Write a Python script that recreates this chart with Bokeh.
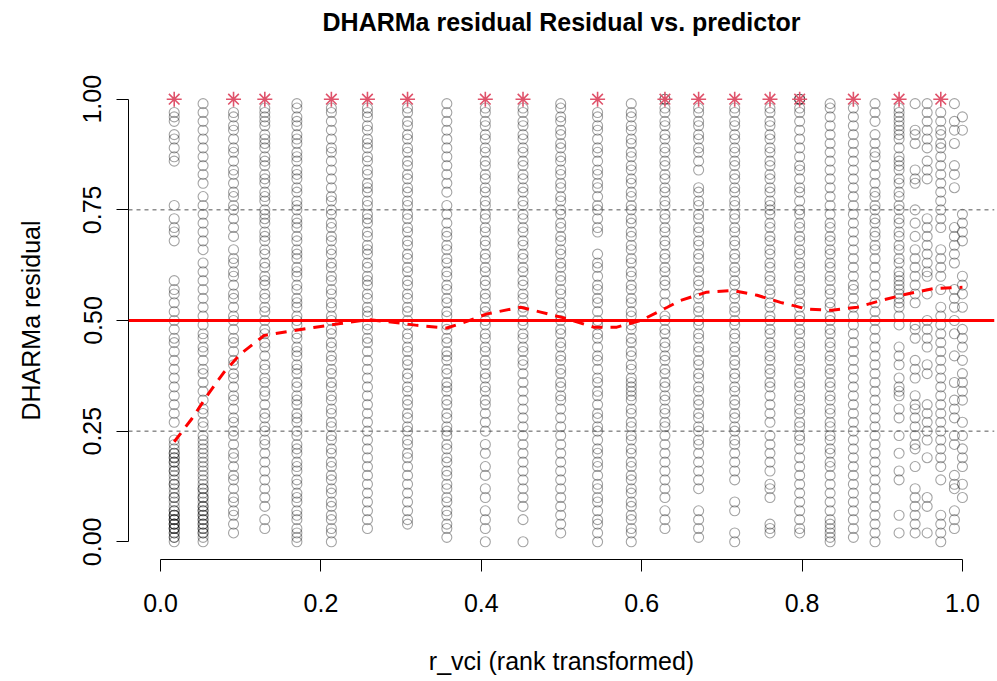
import math
from bokeh.plotting import figure
from bokeh.models import Range1d, FixedTicker, Span, Title
from bokeh.embed import file_html
from bokeh.resources import INLINE

# ---- data ----
title_text = "DHARMa residual Residual vs. predictor"
x_label = "r_vci (rank transformed)"
y_label = "DHARMa residual"

x_ticks = [0.0, 0.2, 0.4, 0.6, 0.8, 1.0]
x_tick_labels = ["0.0", "0.2", "0.4", "0.6", "0.8", "1.0"]
y_ticks = [0.0, 0.25, 0.5, 0.75, 1.0]
y_tick_labels = ["0.00", "0.25", "0.50", "0.75", "1.00"]

# rank-transformed predictor levels (one column of residuals per level)
r_vci_levels = [0.017, 0.053, 0.091, 0.130, 0.170, 0.213, 0.258, 0.308, 0.357, 0.405,
                0.452, 0.499, 0.545, 0.587, 0.629, 0.671, 0.716, 0.760, 0.797, 0.835,
                0.864, 0.891, 0.921, 0.941, 0.956, 0.973, 0.990, 1.000]

res_c01 = [0.97, 0.96, 0.95, 0.92, 0.91, 0.89, 0.87, 0.86, 0.76, 0.73, 0.71, 0.70, 0.68, 0.59, 0.57,
           0.56, 0.54, 0.52, 0.50, 0.48, 0.46, 0.45, 0.43, 0.41, 0.39, 0.37, 0.35, 0.33, 0.31, 0.29,
           0.27, 0.23, 0.22, 0.21, 0.20, 0.19, 0.19, 0.18, 0.17, 0.16, 0.16, 0.15, 0.14, 0.13, 0.13,
           0.12, 0.11, 0.10, 0.10, 0.09, 0.08, 0.07, 0.07, 0.06, 0.06, 0.05, 0.05, 0.04, 0.04, 0.04,
           0.03, 0.03, 0.02, 0.02, 0.01, 0.01, 0.00, 0.05, 0.06, 0.03, 0.18, 0.20]
res_c02 = [0.99, 0.97, 0.95, 0.93, 0.91, 0.89, 0.87, 0.85, 0.83, 0.81, 0.78, 0.76, 0.74, 0.72, 0.70,
           0.68, 0.66, 0.63, 0.61, 0.59, 0.57, 0.55, 0.53, 0.51, 0.49, 0.47, 0.46, 0.44, 0.43, 0.41,
           0.39, 0.38, 0.36, 0.34, 0.32, 0.30, 0.29, 0.27, 0.26, 0.24, 0.23, 0.22, 0.21, 0.20, 0.19,
           0.18, 0.17, 0.16, 0.15, 0.14, 0.13, 0.12, 0.12, 0.11, 0.10, 0.09, 0.08, 0.08, 0.07, 0.06,
           0.06, 0.05, 0.05, 0.04, 0.04, 0.03, 0.03, 0.02, 0.02, 0.01, 0.00, 0.07, 0.10]
res_c03 = [0.97, 0.96, 0.94, 0.93, 0.91, 0.89, 0.88, 0.86, 0.84, 0.83, 0.81, 0.79, 0.78, 0.76, 0.75,
           0.73, 0.71, 0.69, 0.66, 0.64, 0.63, 0.61, 0.60, 0.58, 0.56, 0.55, 0.53, 0.51, 0.50, 0.48,
           0.46, 0.45, 0.43, 0.41, 0.40, 0.38, 0.37, 0.35, 0.33, 0.32, 0.30, 0.28, 0.27, 0.25, 0.24,
           0.22, 0.20, 0.19, 0.17, 0.15, 0.14, 0.12, 0.10, 0.09, 0.07, 0.06, 0.04, 0.02]
res_c04 = [0.98, 0.97, 0.96, 0.95, 0.94, 0.92, 0.91, 0.90, 0.89, 0.87, 0.86, 0.85, 0.83, 0.82, 0.81,
           0.79, 0.78, 0.77, 0.75, 0.74, 0.73, 0.72, 0.70, 0.69, 0.68, 0.66, 0.65, 0.63, 0.62, 0.60,
           0.59, 0.58, 0.56, 0.55, 0.53, 0.52, 0.50, 0.48, 0.47, 0.45, 0.44, 0.42, 0.40, 0.39, 0.37,
           0.36, 0.34, 0.33, 0.31, 0.29, 0.28, 0.26, 0.25, 0.23, 0.22, 0.20, 0.18, 0.16, 0.14, 0.12,
           0.10, 0.08, 0.05, 0.03]
res_c05 = [0.99, 0.98, 0.96, 0.95, 0.94, 0.92, 0.91, 0.90, 0.88, 0.87, 0.86, 0.84, 0.83, 0.82, 0.80,
           0.79, 0.77, 0.76, 0.75, 0.73, 0.72, 0.71, 0.69, 0.68, 0.66, 0.65, 0.64, 0.62, 0.61, 0.60,
           0.58, 0.57, 0.55, 0.54, 0.53, 0.51, 0.50, 0.49, 0.47, 0.46, 0.44, 0.43, 0.42, 0.40, 0.39,
           0.38, 0.36, 0.35, 0.33, 0.32, 0.31, 0.29, 0.28, 0.27, 0.25, 0.24, 0.22, 0.21, 0.20, 0.18,
           0.17, 0.16, 0.14, 0.13, 0.11, 0.10, 0.09, 0.07, 0.06, 0.05, 0.03, 0.02, 0.01, 0.00]
res_c06 = [0.98, 0.97, 0.95, 0.93, 0.91, 0.89, 0.88, 0.86, 0.84, 0.82, 0.80, 0.78, 0.77, 0.75, 0.74,
           0.72, 0.71, 0.69, 0.68, 0.66, 0.65, 0.63, 0.62, 0.60, 0.59, 0.57, 0.56, 0.54, 0.53, 0.51,
           0.50, 0.48, 0.47, 0.45, 0.44, 0.42, 0.41, 0.39, 0.38, 0.36, 0.35, 0.33, 0.32, 0.30, 0.29,
           0.27, 0.26, 0.24, 0.23, 0.21, 0.20, 0.18, 0.17, 0.15, 0.14, 0.12, 0.11, 0.09, 0.08, 0.06,
           0.05, 0.03, 0.02, 0.00]
res_c07 = [0.98, 0.97, 0.96, 0.94, 0.93, 0.91, 0.90, 0.89, 0.87, 0.86, 0.84, 0.83, 0.81, 0.80, 0.79,
           0.77, 0.76, 0.74, 0.73, 0.72, 0.70, 0.69, 0.67, 0.66, 0.65, 0.63, 0.62, 0.60, 0.59, 0.58,
           0.56, 0.55, 0.53, 0.52, 0.51, 0.49, 0.48, 0.46, 0.45, 0.43, 0.41, 0.39, 0.37, 0.35, 0.33,
           0.31, 0.29, 0.27, 0.25, 0.23, 0.21, 0.19, 0.17, 0.15, 0.13, 0.11, 0.09, 0.07, 0.05, 0.03]
res_c08 = [0.98, 0.97, 0.95, 0.94, 0.92, 0.91, 0.89, 0.88, 0.86, 0.85, 0.83, 0.82, 0.80, 0.79, 0.77,
           0.76, 0.74, 0.73, 0.71, 0.70, 0.68, 0.67, 0.65, 0.64, 0.62, 0.61, 0.59, 0.58, 0.56, 0.55,
           0.53, 0.52, 0.50, 0.49, 0.47, 0.46, 0.44, 0.43, 0.41, 0.40, 0.38, 0.37, 0.35, 0.34, 0.32,
           0.31, 0.29, 0.28, 0.26, 0.25, 0.23, 0.22, 0.20, 0.19, 0.17, 0.15, 0.13, 0.11, 0.09, 0.07,
           0.05, 0.04]
res_c09 = [0.99, 0.97, 0.95, 0.93, 0.91, 0.89, 0.87, 0.85, 0.83, 0.81, 0.79, 0.76, 0.74, 0.72, 0.70,
           0.69, 0.67, 0.66, 0.64, 0.63, 0.61, 0.60, 0.58, 0.57, 0.55, 0.54, 0.52, 0.51, 0.49, 0.48,
           0.46, 0.45, 0.43, 0.42, 0.41, 0.39, 0.38, 0.36, 0.35, 0.34, 0.32, 0.31, 0.29, 0.28, 0.26,
           0.25, 0.24, 0.22, 0.21, 0.19, 0.18, 0.16, 0.15, 0.13, 0.12, 0.10, 0.09, 0.07, 0.06, 0.04,
           0.03, 0.01]
res_c10 = [0.98, 0.97, 0.95, 0.94, 0.92, 0.91, 0.89, 0.88, 0.86, 0.85, 0.83, 0.82, 0.80, 0.79, 0.77,
           0.76, 0.74, 0.73, 0.71, 0.70, 0.68, 0.67, 0.65, 0.64, 0.62, 0.61, 0.59, 0.58, 0.56, 0.55,
           0.53, 0.52, 0.50, 0.49, 0.47, 0.46, 0.44, 0.43, 0.41, 0.40, 0.38, 0.37, 0.35, 0.34, 0.32,
           0.31, 0.29, 0.27, 0.25, 0.22, 0.20, 0.17, 0.15, 0.12, 0.10, 0.07, 0.05, 0.03, 0.00]
res_c11 = [0.98, 0.97, 0.95, 0.94, 0.92, 0.91, 0.89, 0.88, 0.86, 0.85, 0.83, 0.82, 0.80, 0.79, 0.77,
           0.76, 0.74, 0.73, 0.71, 0.70, 0.68, 0.67, 0.65, 0.64, 0.62, 0.61, 0.59, 0.58, 0.56, 0.55,
           0.53, 0.52, 0.50, 0.49, 0.47, 0.46, 0.44, 0.43, 0.41, 0.40, 0.38, 0.36, 0.34, 0.32, 0.30,
           0.28, 0.26, 0.24, 0.22, 0.20, 0.18, 0.16, 0.14, 0.12, 0.10, 0.08, 0.05, 0.00]
res_c12 = [0.99, 0.98, 0.96, 0.95, 0.93, 0.92, 0.90, 0.89, 0.87, 0.86, 0.84, 0.83, 0.81, 0.80, 0.78,
           0.77, 0.75, 0.74, 0.72, 0.71, 0.69, 0.68, 0.66, 0.65, 0.63, 0.62, 0.60, 0.59, 0.57, 0.56,
           0.54, 0.53, 0.51, 0.50, 0.48, 0.47, 0.45, 0.44, 0.42, 0.41, 0.39, 0.38, 0.36, 0.35, 0.33,
           0.32, 0.30, 0.28, 0.26, 0.24, 0.22, 0.20, 0.18, 0.16, 0.14, 0.12, 0.10, 0.08, 0.06, 0.04,
           0.02]
res_c13 = [0.97, 0.96, 0.94, 0.93, 0.91, 0.89, 0.88, 0.86, 0.84, 0.83, 0.81, 0.80, 0.78, 0.76, 0.75,
           0.73, 0.71, 0.70, 0.65, 0.63, 0.62, 0.60, 0.58, 0.57, 0.55, 0.54, 0.52, 0.50, 0.49, 0.47,
           0.46, 0.44, 0.42, 0.41, 0.39, 0.37, 0.36, 0.34, 0.33, 0.31, 0.29, 0.28, 0.26, 0.25, 0.23,
           0.21, 0.20, 0.18, 0.17, 0.15, 0.13, 0.12, 0.10, 0.09, 0.07, 0.05, 0.04, 0.02, 0.00]
res_c14 = [0.99, 0.97, 0.96, 0.94, 0.93, 0.91, 0.90, 0.88, 0.87, 0.85, 0.84, 0.82, 0.81, 0.79, 0.78,
           0.76, 0.75, 0.73, 0.72, 0.70, 0.69, 0.67, 0.66, 0.64, 0.63, 0.61, 0.60, 0.58, 0.57, 0.55,
           0.54, 0.52, 0.51, 0.49, 0.48, 0.46, 0.45, 0.43, 0.42, 0.40, 0.39, 0.37, 0.36, 0.35, 0.34,
           0.33, 0.32, 0.30, 0.29, 0.27, 0.26, 0.24, 0.23, 0.21, 0.20, 0.18, 0.17, 0.15, 0.14, 0.12,
           0.11, 0.09, 0.08, 0.06, 0.05, 0.03, 0.02, 0.00]
res_c15 = [1.00, 1.00, 0.98, 0.97, 0.95, 0.94, 0.92, 0.91, 0.89, 0.88, 0.86, 0.85, 0.83, 0.82, 0.80,
           0.79, 0.77, 0.76, 0.74, 0.73, 0.71, 0.70, 0.68, 0.67, 0.65, 0.64, 0.62, 0.61, 0.59, 0.58,
           0.56, 0.54, 0.51, 0.50, 0.48, 0.47, 0.45, 0.44, 0.42, 0.41, 0.39, 0.38, 0.36, 0.35, 0.33,
           0.32, 0.30, 0.29, 0.27, 0.26, 0.24, 0.22, 0.20, 0.18, 0.16, 0.14, 0.12, 0.10, 0.07, 0.05,
           0.03]
res_c16 = [0.98, 0.97, 0.95, 0.94, 0.92, 0.91, 0.89, 0.88, 0.86, 0.84, 0.80, 0.79, 0.77, 0.76, 0.74,
           0.73, 0.71, 0.70, 0.68, 0.67, 0.65, 0.64, 0.62, 0.61, 0.59, 0.58, 0.56, 0.55, 0.53, 0.52,
           0.50, 0.49, 0.47, 0.46, 0.44, 0.43, 0.41, 0.40, 0.38, 0.37, 0.35, 0.34, 0.32, 0.31, 0.29,
           0.28, 0.26, 0.25, 0.23, 0.22, 0.20, 0.18, 0.16, 0.14, 0.12, 0.07, 0.05, 0.03, 0.01]
res_c17 = [0.98, 0.97, 0.95, 0.94, 0.92, 0.91, 0.89, 0.88, 0.86, 0.85, 0.83, 0.82, 0.80, 0.79, 0.77,
           0.76, 0.74, 0.73, 0.71, 0.70, 0.68, 0.67, 0.65, 0.64, 0.62, 0.61, 0.59, 0.58, 0.56, 0.55,
           0.53, 0.52, 0.50, 0.49, 0.47, 0.46, 0.44, 0.43, 0.41, 0.40, 0.38, 0.37, 0.35, 0.34, 0.32,
           0.31, 0.29, 0.28, 0.26, 0.25, 0.23, 0.22, 0.20, 0.18, 0.16, 0.14, 0.09, 0.07, 0.02, 0.00]
res_c18 = [0.98, 0.97, 0.95, 0.94, 0.92, 0.91, 0.89, 0.88, 0.86, 0.85, 0.83, 0.82, 0.80, 0.79, 0.77,
           0.76, 0.75, 0.74, 0.72, 0.71, 0.69, 0.68, 0.66, 0.65, 0.63, 0.62, 0.60, 0.59, 0.57, 0.56,
           0.54, 0.53, 0.51, 0.50, 0.48, 0.47, 0.45, 0.44, 0.42, 0.41, 0.39, 0.38, 0.36, 0.35, 0.33,
           0.31, 0.29, 0.27, 0.24, 0.22, 0.20, 0.18, 0.16, 0.13, 0.12, 0.10, 0.04, 0.03, 0.02]
res_c19 = [1.00, 1.00, 1.00, 0.98, 0.97, 0.95, 0.93, 0.91, 0.89, 0.87, 0.85, 0.84, 0.82, 0.80, 0.79,
           0.77, 0.75, 0.74, 0.72, 0.71, 0.69, 0.68, 0.66, 0.65, 0.63, 0.62, 0.60, 0.59, 0.57, 0.56,
           0.54, 0.53, 0.51, 0.50, 0.48, 0.47, 0.45, 0.44, 0.42, 0.41, 0.39, 0.38, 0.36, 0.35, 0.33,
           0.32, 0.30, 0.29, 0.27, 0.26, 0.24, 0.23, 0.21, 0.19, 0.17, 0.15, 0.13, 0.11, 0.09, 0.07,
           0.05, 0.03, 0.02]
res_c20 = [0.99, 0.98, 0.96, 0.94, 0.92, 0.90, 0.88, 0.86, 0.84, 0.82, 0.80, 0.78, 0.76, 0.74, 0.72,
           0.71, 0.69, 0.68, 0.66, 0.65, 0.63, 0.62, 0.60, 0.59, 0.57, 0.56, 0.54, 0.53, 0.51, 0.50,
           0.48, 0.47, 0.45, 0.44, 0.42, 0.41, 0.39, 0.38, 0.36, 0.35, 0.33, 0.32, 0.30, 0.29, 0.27,
           0.26, 0.24, 0.23, 0.21, 0.20, 0.18, 0.17, 0.15, 0.13, 0.11, 0.09, 0.07, 0.05, 0.04, 0.03,
           0.02, 0.01, 0.00]
res_c21 = [0.98, 0.96, 0.94, 0.92, 0.90, 0.88, 0.86, 0.84, 0.82, 0.80, 0.78, 0.76, 0.74, 0.72, 0.70,
           0.68, 0.66, 0.64, 0.62, 0.60, 0.58, 0.57, 0.55, 0.53, 0.51, 0.49, 0.47, 0.45, 0.43, 0.41,
           0.39, 0.37, 0.35, 0.33, 0.31, 0.29, 0.27, 0.25, 0.23, 0.21, 0.19, 0.17, 0.15, 0.13, 0.11,
           0.09, 0.07, 0.05, 0.03, 0.01]
res_c22 = [0.99, 0.97, 0.95, 0.92, 0.90, 0.88, 0.87, 0.85, 0.83, 0.81, 0.79, 0.78, 0.76, 0.75, 0.73,
           0.72, 0.70, 0.69, 0.67, 0.66, 0.64, 0.62, 0.60, 0.58, 0.56, 0.54, 0.52, 0.50, 0.48, 0.46,
           0.44, 0.42, 0.40, 0.38, 0.36, 0.34, 0.32, 0.30, 0.28, 0.26, 0.24, 0.22, 0.20, 0.18, 0.16,
           0.14, 0.12, 0.10, 0.08, 0.06, 0.04, 0.02, 0.00]
res_c23 = [0.98, 0.97, 0.96, 0.95, 0.94, 0.93, 0.92, 0.91, 0.89, 0.87, 0.86, 0.85, 0.84, 0.82, 0.81,
           0.79, 0.78, 0.76, 0.75, 0.73, 0.72, 0.70, 0.69, 0.67, 0.66, 0.64, 0.63, 0.61, 0.60, 0.59,
           0.58, 0.57, 0.56, 0.55, 0.54, 0.53, 0.51, 0.49, 0.44, 0.42, 0.40, 0.37, 0.35, 0.34, 0.33,
           0.30, 0.28, 0.24, 0.20, 0.16, 0.14, 0.06, 0.02]
res_c24 = [0.99, 0.93, 0.92, 0.90, 0.84, 0.82, 0.81, 0.75, 0.72, 0.69, 0.66, 0.64, 0.62, 0.60, 0.58,
           0.56, 0.54, 0.49, 0.48, 0.46, 0.41, 0.39, 0.37, 0.33, 0.31, 0.30, 0.28, 0.26, 0.24, 0.22,
           0.21, 0.17, 0.12, 0.10, 0.08, 0.06, 0.04, 0.02]
res_c25 = [0.99, 0.97, 0.95, 0.93, 0.91, 0.89, 0.86, 0.84, 0.82, 0.73, 0.71, 0.69, 0.67, 0.65, 0.63,
           0.61, 0.60, 0.56, 0.50, 0.48, 0.46, 0.44, 0.40, 0.38, 0.31, 0.29, 0.27, 0.25, 0.23, 0.19,
           0.10, 0.08, 0.02]
res_c26 = [0.97, 0.95, 0.93, 0.92, 0.90, 0.89, 0.87, 0.85, 0.83, 0.81, 0.79, 0.77, 0.75, 0.73, 0.71,
           0.66, 0.64, 0.62, 0.60, 0.57, 0.53, 0.51, 0.49, 0.47, 0.45, 0.43, 0.41, 0.39, 0.37, 0.35,
           0.33, 0.31, 0.29, 0.27, 0.25, 0.23, 0.21, 0.19, 0.17, 0.14, 0.06, 0.04, 0.02, 0.00]
res_c27 = [0.99, 0.95, 0.93, 0.90, 0.85, 0.83, 0.80, 0.71, 0.69, 0.67, 0.65, 0.63, 0.57, 0.55, 0.53,
           0.50, 0.47, 0.42, 0.36, 0.32, 0.30, 0.28, 0.24, 0.22, 0.15, 0.13, 0.12, 0.07, 0.05, 0.03]
res_c28 = [0.96, 0.93, 0.74, 0.72, 0.70, 0.68, 0.60, 0.58, 0.56, 0.53, 0.48, 0.46, 0.44, 0.41, 0.38,
           0.36, 0.34, 0.32, 0.27, 0.24, 0.21, 0.19, 0.17, 0.13, 0.10]

residual_columns = [res_c01, res_c02, res_c03, res_c04, res_c05, res_c06, res_c07, res_c08,
                    res_c09, res_c10, res_c11, res_c12, res_c13, res_c14, res_c15, res_c16,
                    res_c17, res_c18, res_c19, res_c20, res_c21, res_c22, res_c23, res_c24,
                    res_c25, res_c26, res_c27, res_c28]

# simulation outliers (plotted as red asterisks at 1)
outlier_x = [0.017, 0.091, 0.130, 0.213, 0.258, 0.308, 0.405, 0.452, 0.545, 0.629,
             0.671, 0.716, 0.760, 0.797, 0.864, 0.921, 0.973]
outlier_y = [1.0] * len(outlier_x)

# smooth (spline) fit through residuals
smooth_x = [0.017, 0.039, 0.058, 0.079, 0.100, 0.129, 0.158, 0.191, 0.224, 0.258, 0.290,
            0.320, 0.357, 0.382, 0.407, 0.449, 0.474, 0.507, 0.540, 0.569, 0.599, 0.632,
            0.648, 0.681, 0.713, 0.744, 0.773, 0.806, 0.837, 0.869, 0.898, 0.931, 0.964, 1.000]
smooth_y = [0.226, 0.278, 0.330, 0.383, 0.425, 0.466, 0.475, 0.484, 0.493, 0.502, 0.496,
            0.489, 0.483, 0.498, 0.515, 0.530, 0.519, 0.504, 0.485, 0.485, 0.500, 0.530,
            0.545, 0.564, 0.568, 0.557, 0.541, 0.526, 0.523, 0.530, 0.545, 0.560, 0.572, 0.575]

reference_median = 0.5
reference_quartiles = [0.25, 0.75]

# ---- build point arrays ----
pts_x, pts_y = [], []
for xv, col in zip(r_vci_levels, residual_columns):
    pts_x.extend([xv] * len(col))
    pts_y.extend(col)

FONT = "Liberation Sans"

p = figure(width=997, height=681, output_backend="svg", toolbar_location=None,
           x_range=Range1d(-0.04, 1.04), y_range=Range1d(-0.04, 1.04),
           min_border_left=128, min_border_right=3, min_border_top=81, min_border_bottom=122,
           title_location=None)
p.outline_line_color = None
p.xgrid.visible = False
p.ygrid.visible = False
p.background_fill_color = "white"
p.border_fill_color = "white"

# spacer between frame and title (nearest the frame), then the title itself
p.add_layout(Title(text=" ", text_font_size="1px", standoff=37), "above")
p.add_layout(Title(text=title_text, align="center", vertical_align="middle", standoff=10,
                   text_font=FONT, text_font_size="25px", text_font_style="bold",
                   text_color="black"), "above")

# points
p.scatter(pts_x, pts_y, marker="circle", size=10, fill_color=None,
          line_color="black", line_alpha=0.36, line_width=1.1)
# outliers
p.scatter(outlier_x, outlier_y, marker="asterisk", size=15,
          line_color="#DF536B", line_width=1.6)

# reference lines
for q in reference_quartiles:
    p.add_layout(Span(location=q, dimension="width", line_color="#555555",
                      line_width=1, line_dash="4 4"))
p.add_layout(Span(location=reference_median, dimension="width", line_color="red",
                  line_width=3))

# smooth
p.line(smooth_x, smooth_y, line_color="red", line_width=3, line_dash="11 8")

# axes
xa = p.xaxis[0]
xa.ticker = FixedTicker(ticks=x_ticks)
xa.major_label_overrides = {t: l for t, l in zip(x_ticks, x_tick_labels)}
xa.bounds = (x_ticks[0], x_ticks[-1])
ya = p.yaxis[0]
ya.ticker = FixedTicker(ticks=y_ticks)
ya.major_label_overrides = {t: l for t, l in zip(y_ticks, y_tick_labels)}
ya.bounds = (y_ticks[0], y_ticks[-1])
ya.major_label_orientation = "parallel"

for ax in (xa, ya):
    ax.minor_tick_line_color = None
    ax.major_tick_out = 12
    ax.major_tick_in = 0
    ax.axis_line_color = "black"
    ax.major_tick_line_color = "black"
    ax.major_label_text_font = FONT
    ax.major_label_text_font_size = "25px"
    ax.major_label_text_color = "black"
    ax.axis_label_text_font = FONT
    ax.axis_label_text_font_size = "25px"
    ax.axis_label_text_font_style = "normal"
    ax.axis_label_text_color = "black"

xa.axis_label = x_label
xa.major_label_standoff = 22
xa.axis_label_standoff = 32
ya.axis_label = y_label
ya.major_label_standoff = 15
ya.axis_label_standoff = 36

open("out.html", "w").write(file_html(p, INLINE))
